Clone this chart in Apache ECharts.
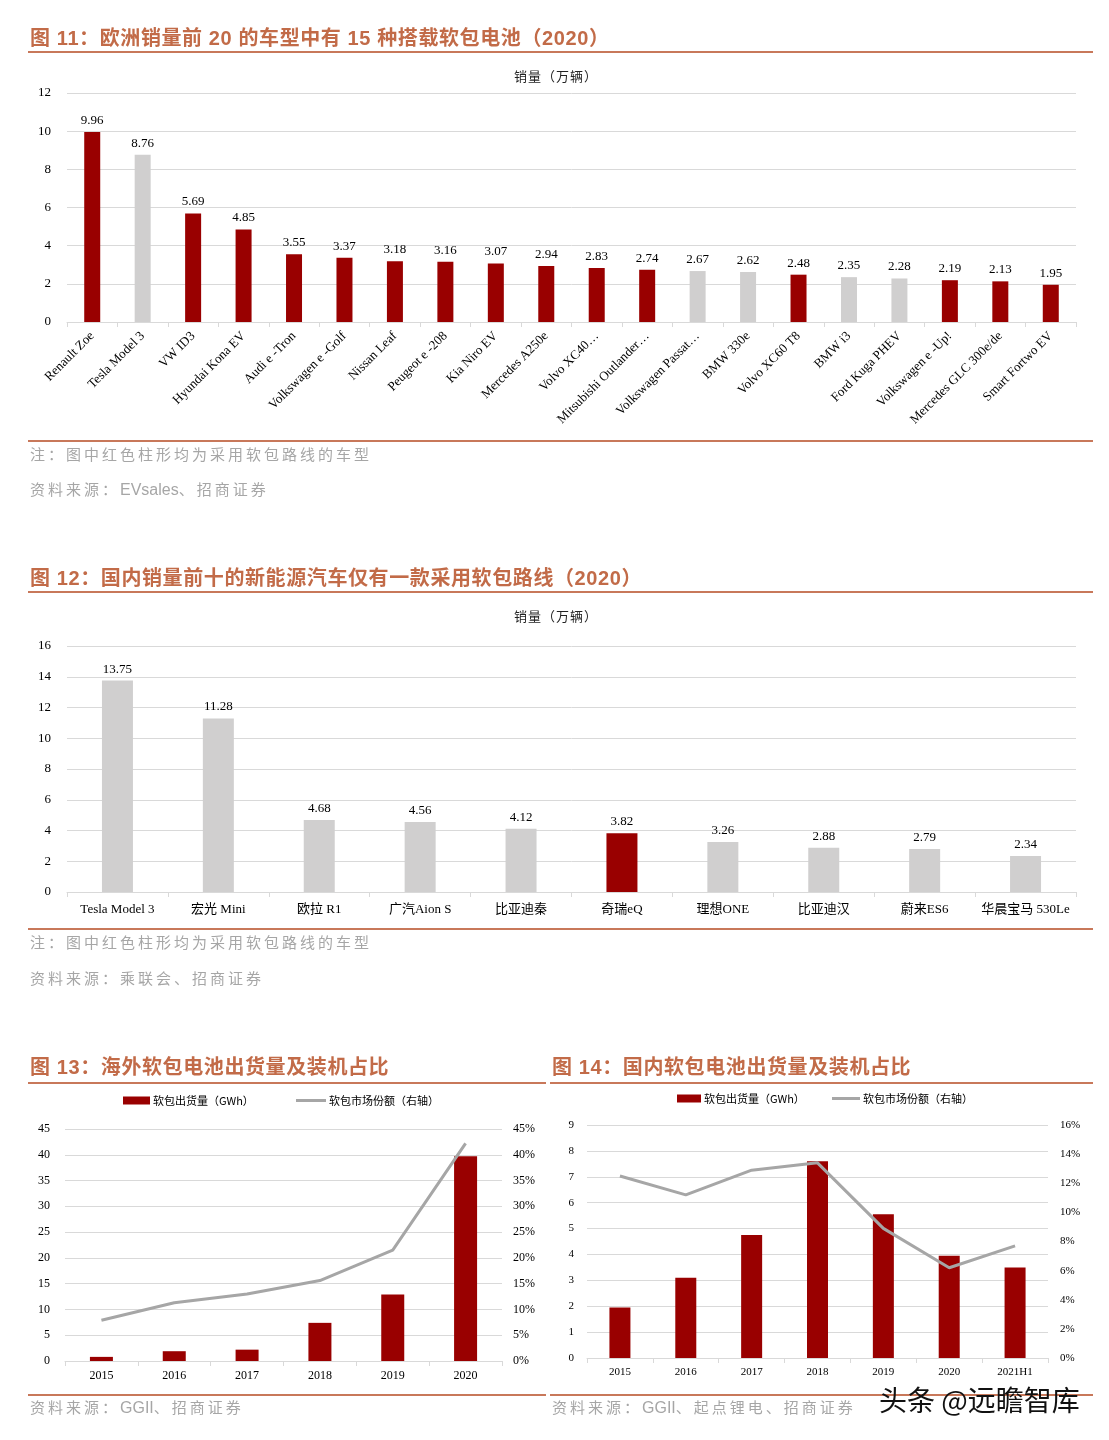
<!DOCTYPE html>
<html><head><meta charset="utf-8">
<script src="https://cdn.jsdelivr.net/npm/echarts@6/dist/echarts.min.js"></script>
<style>
html,body{margin:0;padding:0;background:#fff}
#wrap{position:relative;width:1109px;height:1440px;overflow:hidden}
#c{position:absolute;left:0;top:0;width:1109px;height:1440px}
.t{position:absolute;white-space:nowrap;z-index:2}
.h{font-family:"Liberation Sans","Noto Sans CJK SC",sans-serif;font-weight:bold;font-size:20px;color:#c26b48;letter-spacing:0.6px;line-height:24px}
.n{font-family:"Noto Sans CJK SC",sans-serif;font-size:15px;color:#a6a6a6;letter-spacing:3px;line-height:20px}
.n .en{font-family:"Liberation Sans",sans-serif;letter-spacing:0;font-size:16px}
.u{font-family:"Noto Sans CJK SC",sans-serif;font-size:13px;color:#222;letter-spacing:1px;line-height:18px}
.ln{position:absolute;height:2px;background:#c8785a;z-index:2}
.wm{font-family:"Noto Sans CJK SC",sans-serif;font-size:28px;color:#111;line-height:32px}
</style>
</head><body><div id="wrap"><div id="c"></div>
<div class="t h" style="left:30px;top:26px">图 11：欧洲销量前 20 的车型中有 15 种搭载软包电池（2020）</div>
<div class="ln" style="left:28px;top:51px;width:1065px"></div>
<div class="t u" style="left:514px;top:67px">销量（万辆）</div>
<div class="ln" style="left:28px;top:440px;width:1065px"></div>
<div class="t n" style="left:30px;top:444px">注：图中红色柱形均为采用软包路线的车型</div>
<div class="t n" style="left:30px;top:479px">资料来源：<span class="en">EVsales</span>、招商证券</div>

<div class="t h" style="left:30px;top:566px">图 12：国内销量前十的新能源汽车仅有一款采用软包路线（2020）</div>
<div class="ln" style="left:28px;top:591px;width:1065px"></div>
<div class="t u" style="left:514px;top:607px">销量（万辆）</div>
<div class="ln" style="left:28px;top:928px;width:1065px"></div>
<div class="t n" style="left:30px;top:932px">注：图中红色柱形均为采用软包路线的车型</div>
<div class="t n" style="left:30px;top:968px">资料来源：乘联会、招商证券</div>

<div class="t h" style="left:30px;top:1055px">图 13：海外软包电池出货量及装机占比</div>
<div class="ln" style="left:28px;top:1082px;width:518px"></div>
<div class="ln" style="left:28px;top:1394px;width:518px"></div>
<div class="t n" style="left:30px;top:1397px">资料来源：<span class="en">GGII</span>、招商证券</div>

<div class="t h" style="left:552px;top:1055px">图 14：国内软包电池出货量及装机占比</div>
<div class="ln" style="left:550px;top:1082px;width:543px"></div>
<div class="ln" style="left:550px;top:1394px;width:543px"></div>
<div class="t n" style="left:552px;top:1397px">资料来源：<span class="en">GGII</span>、起点锂电、招商证券</div>
<div class="t wm" style="left:879px;top:1383px">头条 @远瞻智库</div>
</div>
<script>
// ---- Figure 11: Europe top-20 models (2020), 万辆
const euModels = ['Renault Zoe','Tesla Model 3','VW ID3','Hyundai Kona EV','Audi e -Tron','Volkswagen e -Golf','Nissan Leaf','Peugeot e -208','Kia Niro EV','Mercedes A250e','Volvo XC40…','Mitsubishi Outlander…','Volkswagen Passat…','BMW 330e','Volvo XC60 T8','BMW i3','Ford Kuga PHEV','Volkswagen e -Up!','Mercedes GLC 300e/de','Smart Fortwo EV'];
const euSales = [9.96,8.76,5.69,4.85,3.55,3.37,3.18,3.16,3.07,2.94,2.83,2.74,2.67,2.62,2.48,2.35,2.28,2.19,2.13,1.95];
const euPouch = [1,0,1,1,1,1,1,1,1,1,1,1,0,0,1,0,0,1,1,1];
const euTicks = [0,2,4,6,8,10,12];

// ---- Figure 12: China top-10 NEV (2020), 万辆
const cnModels = ['Tesla Model 3','宏光 Mini','欧拉 R1','广汽Aion S','比亚迪秦','奇瑞eQ','理想ONE','比亚迪汉','蔚来ES6','华晨宝马 530Le'];
const cnSales = [13.75,11.28,4.68,4.56,4.12,3.82,3.26,2.88,2.79,2.34];
const cnPouch = [0,0,0,0,0,1,0,0,0,0];
const cnTicks = [0,2,4,6,8,10,12,14,16];

// ---- Figure 13: overseas pouch shipments
const osYears = ['2015','2016','2017','2018','2019','2020'];
const osGWh = [0.8,1.9,2.2,7.4,12.9,39.7];
const osShare = [7.9,11.3,13.0,15.6,21.5,42.2]; // %
const osTicksL = [0,5,10,15,20,25,30,35,40,45];

// ---- Figure 14: domestic pouch shipments
const dmYears = ['2015','2016','2017','2018','2019','2020','2021H1'];
const dmGWh = [1.95,3.1,4.75,7.6,5.55,3.95,3.5];
const dmShare = [12.5,11.2,12.9,13.4,8.9,6.2,7.7]; // %
const dmTicksL = [0,1,2,3,4,5,6,7,8,9];
const dmTicksR = [0,2,4,6,8,10,12,14,16];

const RED = '#990000', GREY = '#d0cfcf', LINE = '#a6a6a6', GRID = '#d9d9d9';
const SERIF = '"Liberation Serif","Times New Roman","Noto Sans CJK SC",serif';
const N1 = '软包出货量（GWh）', N2 = '软包市场份额（右轴）';

function colored(vals, flags){ return vals.map((v,i)=>({value:v,itemStyle:{color:flags[i]?RED:GREY}})); }
function cat(gi, data, extra){
  return Object.assign({type:'category',gridIndex:gi,data:data,boundaryGap:true,
    axisLine:{lineStyle:{color:GRID,width:1}},
    axisTick:{show:true,alignWithLabel:false,length:5,lineStyle:{color:GRID}},
    axisLabel:{fontFamily:SERIF,fontSize:13,color:'#000',margin:10}}, extra||{});
}
function val(gi, ticks, extra){
  return Object.assign({type:'value',gridIndex:gi,min:ticks[0],max:ticks[ticks.length-1],interval:ticks[1]-ticks[0],
    axisLine:{show:false},axisTick:{show:false},
    splitLine:{lineStyle:{color:GRID,width:1}},
    axisLabel:{fontFamily:SERIF,fontSize:13,color:'#000',margin:16}}, extra||{});
}
const lbl = {show:true,position:'top',distance:5,fontFamily:SERIF,fontSize:13,color:'#000'};
const legTxt = {fontFamily:'"Noto Sans CJK SC",sans-serif',fontSize:11,color:'#000',padding:[0,0,0,-2]};

const chart = echarts.init(document.getElementById('c'), null, {renderer:'canvas'});
chart.setOption({
  animation:false,
  backgroundColor:'#fff',
  grid:[
    {left:67,top:93,width:1009,height:229},
    {left:67,top:646,width:1009,height:246},
    {left:65,top:1129,width:437,height:232},
    {left:587,top:1125,width:461,height:233}
  ],
  legend:[
    {left:123,top:1095,padding:0,itemWidth:27,itemHeight:8,data:[{name:N1,icon:'rect'}],textStyle:legTxt},
    {left:296,top:1095,padding:0,itemWidth:30,itemHeight:3,data:[{name:N2,icon:'rect'}],textStyle:legTxt},
    {left:677,top:1093,padding:0,itemWidth:24,itemHeight:8,data:[{name:N1,icon:'rect'}],textStyle:legTxt},
    {left:832,top:1093,padding:0,itemWidth:28,itemHeight:3,data:[{name:N2,icon:'rect'}],textStyle:legTxt}
  ],
  xAxis:[
    cat(0, euModels, {axisLabel:{fontFamily:SERIF,fontSize:13,color:'#000',margin:12,rotate:45,interval:0}}),
    cat(1, cnModels, {axisLabel:{fontFamily:SERIF,fontSize:13,color:'#000',margin:11,interval:0}}),
    cat(2, osYears, {axisLabel:{fontFamily:SERIF,fontSize:12,color:'#000',margin:9}}),
    cat(3, dmYears, {axisLabel:{fontFamily:SERIF,fontSize:11,color:'#000',margin:9}})
  ],
  yAxis:[
    val(0, euTicks, {axisLabel:{fontFamily:SERIF,fontSize:13,color:'#000',margin:16}}),
    val(1, cnTicks, {axisLabel:{fontFamily:SERIF,fontSize:13,color:'#000',margin:16}}),
    val(2, osTicksL, {axisLabel:{fontFamily:SERIF,fontSize:12,color:'#000',margin:15}}),
    val(2, osTicksL, {position:'right',splitLine:{show:false},axisLabel:{fontFamily:SERIF,fontSize:12,color:'#000',margin:11,formatter:'{value}%'}}),
    val(3, dmTicksL, {axisLabel:{fontFamily:SERIF,fontSize:11,color:'#000',margin:13}}),
    val(3, dmTicksR, {position:'right',splitLine:{show:false},axisLabel:{fontFamily:SERIF,fontSize:11,color:'#000',margin:12,formatter:'{value}%'}})
  ],
  series:[
    {type:'bar',xAxisIndex:0,yAxisIndex:0,barWidth:16,data:colored(euSales,euPouch),label:lbl},
    {type:'bar',xAxisIndex:1,yAxisIndex:1,barWidth:31,data:colored(cnSales,cnPouch),label:lbl},
    {type:'bar',name:N1,xAxisIndex:2,yAxisIndex:2,barWidth:23,itemStyle:{color:RED},data:osGWh},
    {type:'line',name:N2,xAxisIndex:2,yAxisIndex:3,symbol:'none',lineStyle:{color:LINE,width:3},itemStyle:{color:LINE},data:osShare},
    {type:'bar',name:N1,xAxisIndex:3,yAxisIndex:4,barWidth:21,itemStyle:{color:RED},data:dmGWh},
    {type:'line',name:N2,xAxisIndex:3,yAxisIndex:5,symbol:'none',lineStyle:{color:LINE,width:3},itemStyle:{color:LINE},data:dmShare}
  ]
});
</script>
</body></html>
